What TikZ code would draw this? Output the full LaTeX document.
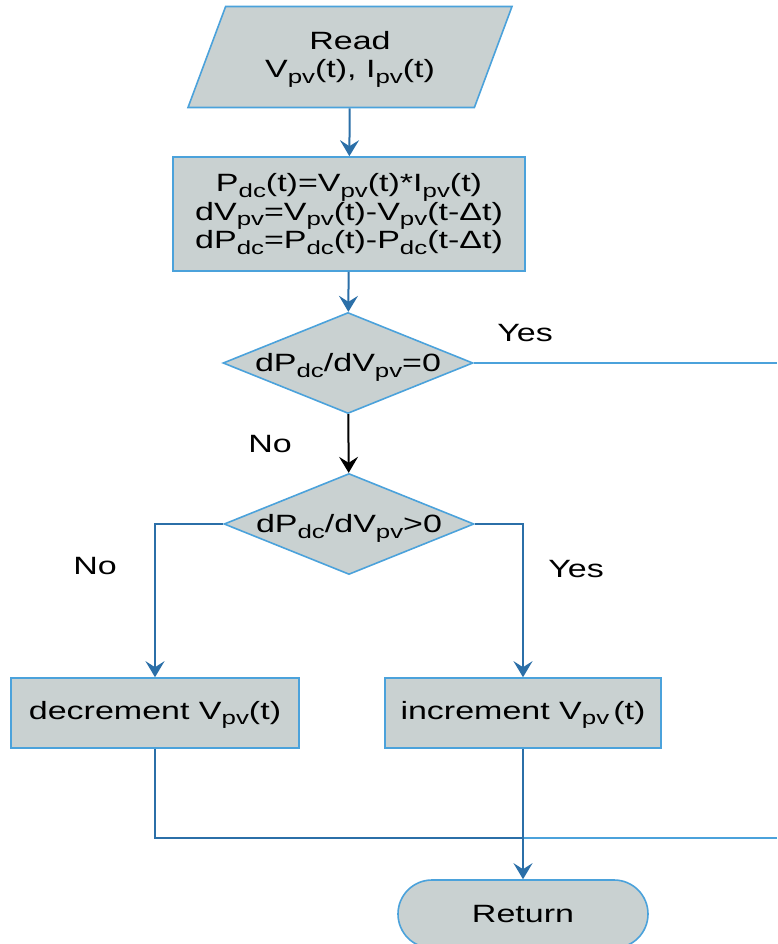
\documentclass[tikz,border=0pt]{standalone}
\usepackage{fontspec}
\setmainfont{Liberation Sans}[FakeStretch=1.36]
\usetikzlibrary{shapes.geometric,arrows.meta}

\definecolor{boxfill}{HTML}{C9D1D1}
\definecolor{boxline}{HTML}{4BA2DB}
\definecolor{flowline}{HTML}{2B6FA8}
\newcommand{\lo}[1]{\raisebox{-0.22em}[0.5em][0pt]{\fontsize{19}{19}\selectfont #1}}

\begin{document}
\begin{tikzpicture}[x=1pt, y=-1pt,
    box/.style={rectangle, draw=boxline, fill=boxfill, line width=1.6pt, align=center, inner sep=0pt, font=\fontsize{25}{28.5}\selectfont},
    io/.style={box, trapezium, trapezium left angle=54, trapezium right angle=126, trapezium stretches body, minimum width=324pt, minimum height=101pt},
    decision/.style={box, diamond, aspect=2.5, minimum width=250pt, minimum height=101pt},
    term/.style={box, rounded corners=34pt, minimum width=250pt, minimum height=68pt},
    arrow/.style={-{Stealth[length=16pt, width=19pt, inset=6pt]}, line width=2pt, draw=flowline},
    link/.style={line width=2pt, draw=flowline},
    thinlink/.style={line width=1.6pt, draw=boxline},
    lbl/.style={font=\fontsize{25}{25}\selectfont},
]
    \useasboundingbox (0,0) rectangle (777,944);

    % Input and computation
    \node[io] (read) at (350,57) {Read\\V\lo{pv}(t), I\lo{pv}(t)};
    \node[box, minimum width=352pt, minimum height=114pt] (calc) at (349,214)
        {P\lo{dc}(t)=V\lo{pv}(t)*I\lo{pv}(t)\\dV\lo{pv}=V\lo{pv}(t)-V\lo{pv}(t-Δt)\\dP\lo{dc}=P\lo{dc}(t)-P\lo{dc}(t-Δt)};

    % Decisions
    \node[decision] (zero) at (348,363) {dP\lo{dc}/dV\lo{pv}=0};
    \node[decision] (pos) at (349,524) {dP\lo{dc}/dV\lo{pv}>0};

    % Actions
    \node[box, minimum width=288pt, minimum height=70pt] (dec) at (155,713) {decrement V\lo{pv}(t)};
    \node[box, minimum width=276pt, minimum height=70pt] (inc) at (523,713) {increment V\lo{pv}\,(t)};
    \node[term] (ret) at (523,914) {Return};

    % Helper points
    \coordinate (exitR) at (777,363);
    \coordinate (backR) at (777,838);
    \coordinate (join) at (523,838);

    % Labels
    \node[lbl] (yesA) at (525,333) {Yes};
    \node[lbl] (noA) at (270,444) {No};
    \node[lbl] (noB) at (95,566) {No};
    \node[lbl] (yesB) at (576,569) {Yes};

    % Arrows
    \draw[arrow] (read) -- (calc);
    \draw[arrow] (calc) -- (zero);
    \draw[arrow, draw=black] (zero) -- (pos);
    \draw[thinlink] (zero.east) -- (exitR);
    \draw[arrow] (pos.west) -| (dec.north);
    \draw[arrow] (pos.east) -| (inc.north);
    \draw[link] (dec.south) |- (join);
    \draw[thinlink] (backR) -- (join);
    \draw[arrow] (inc) -- (ret);
\end{tikzpicture}
\end{document}
